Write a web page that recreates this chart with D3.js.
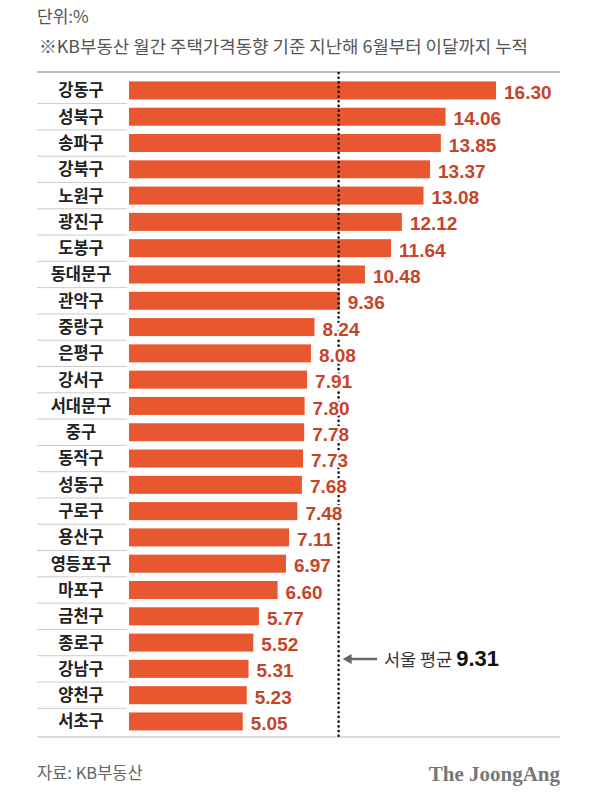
<!DOCTYPE html>
<html>
<head>
  <meta charset="utf-8">
  <title>서울 구별 주택가격 누적 상승률</title>
  <script src="https://cdn.jsdelivr.net/npm/d3@7"></script>
  <style>
    body { margin: 0; background: #fff; }
  </style>
</head>
<body>
  <svg width="600" height="807" id="mainsvg"></svg>
  <script>
    // data
    const districts = ['강동구', '성북구', '송파구', '강북구', '노원구', '광진구', '도봉구', '동대문구', '관악구',
      '중랑구', '은평구', '강서구', '서대문구', '중구', '동작구', '성동구', '구로구', '용산구', '영등포구', '마포구',
      '금천구', '종로구', '강남구', '양천구', '서초구'];
    const rates = [16.30, 14.06, 13.85, 13.37, 13.08, 12.12, 11.64, 10.48, 9.36,
      8.24, 8.08, 7.91, 7.80, 7.78, 7.73, 7.68, 7.48, 7.11, 6.97, 6.60,
      5.77, 5.52, 5.31, 5.23, 5.05];
    const seoulAvg = 9.31;

    const data = districts.map((d, i) => ({ name: d, value: rates[i] }));

    const svg = d3.select('#mainsvg');
    const kr = "'Noto Sans CJK KR', 'Noto Sans', sans-serif";

    const mLeft = 37, mRight = 560, ruleTop = 72, ruleBottom = 737;
    const labelRight = 127;

    const x = d3.scaleLinear().domain([0, 16.30]).range([129, 496]);
    const y = d3.scaleBand().domain(districts).range([77.3, 734.6]).paddingInner(0.315).paddingOuter(0.157);

    // header
    svg.append('text').attr('x', mLeft).attr('y', 23)
      .attr('font-family', kr).attr('font-size', 17).attr('fill', '#555')
      .text('단위:%');
    svg.append('text').attr('x', 39).attr('y', 53)
      .attr('font-family', kr).attr('font-size', 17.5).attr('fill', '#555')
      .attr('textLength', 489).attr('lengthAdjust', 'spacingAndGlyphs')
      .text('※KB부동산 월간 주택가격동향 기준 지난해 6월부터 이달까지 누적');

    // rules
    svg.append('line').attr('x1', mLeft).attr('x2', mRight).attr('y1', ruleTop).attr('y2', ruleTop)
      .attr('stroke', '#aaa').attr('stroke-width', 1.5);
    svg.append('line').attr('x1', mLeft).attr('x2', mRight).attr('y1', ruleBottom).attr('y2', ruleBottom)
      .attr('stroke', '#bbb').attr('stroke-width', 1);

    // row separators in label column
    const step = y.step();
    svg.append('g').selectAll('line').data(districts.slice(0, -1)).join('line')
      .attr('x1', mLeft).attr('x2', labelRight)
      .attr('y1', d => y(d) + y.bandwidth() / 2 + step / 2)
      .attr('y2', d => y(d) + y.bandwidth() / 2 + step / 2)
      .attr('stroke', '#ccc').attr('stroke-width', 1);

    // bars
    svg.append('g').selectAll('rect').data(data).join('rect')
      .attr('x', x(0))
      .attr('y', d => y(d.name))
      .attr('width', d => x(d.value) - x(0))
      .attr('height', y.bandwidth())
      .attr('fill', '#e8572f');

    // district labels
    svg.append('g').selectAll('text').data(data).join('text')
      .attr('x', 81)
      .attr('y', d => y(d.name) + y.bandwidth() / 2)
      .attr('dy', '0.36em')
      .attr('text-anchor', 'middle')
      .attr('font-family', kr).attr('font-weight', 'bold').attr('font-size', 16.5)
      .attr('fill', '#222')
      .text(d => d.name);

    // Seoul average line (value labels sit on top of it)
    svg.append('line')
      .attr('x1', x(seoulAvg)).attr('x2', x(seoulAvg))
      .attr('y1', ruleTop + 1).attr('y2', ruleBottom - 1)
      .attr('stroke', '#111').attr('stroke-width', 2.6)
      .attr('stroke-dasharray', '0.1 4.6').attr('stroke-linecap', 'round');

    // value labels with white halo
    svg.append('g').selectAll('text').data(data).join('text')
      .attr('x', d => x(d.value) + 8)
      .attr('y', d => y(d.name) + y.bandwidth() / 2)
      .attr('dy', '0.45em')
      .attr('font-family', "'Liberation Sans', Arial, sans-serif").attr('font-weight', 'bold').attr('font-size', 19)
      .attr('fill', '#c4452a')
      .attr('stroke', '#fff').attr('stroke-width', 4).attr('paint-order', 'stroke')
      .text(d => d.value.toFixed(2));

    // annotation
    const ay = 659;
    svg.append('line').attr('x1', x(seoulAvg) + 10).attr('x2', 377).attr('y1', ay).attr('y2', ay)
      .attr('stroke', '#666').attr('stroke-width', 2.5);
    svg.append('path')
      .attr('d', `M${x(seoulAvg) + 4},${ay} l9,-5 l0,10 z`)
      .attr('fill', '#666');
    const note = svg.append('text').attr('x', 384).attr('y', ay + 7)
      .attr('font-family', kr).attr('font-size', 17.5).attr('fill', '#333');
    note.append('tspan').text('서울 평균 ');
    note.append('tspan').attr('font-family', "'Liberation Sans', Arial, sans-serif")
      .attr('font-weight', 'bold').attr('font-size', 22).attr('fill', '#111').text(seoulAvg.toFixed(2));

    // footer
    svg.append('text').attr('x', mLeft).attr('y', 779)
      .attr('font-family', kr).attr('font-size', 16.5).attr('fill', '#666')
      .text('자료: KB부동산');
    svg.append('text').attr('x', mRight).attr('y', 781)
      .attr('text-anchor', 'end')
      .attr('font-family', "'Liberation Serif', 'DejaVu Serif', serif").attr('font-weight', 'bold')
      .attr('font-size', 21).attr('fill', '#777')
      .text('The JoongAng');
  </script>
</body>
</html>
